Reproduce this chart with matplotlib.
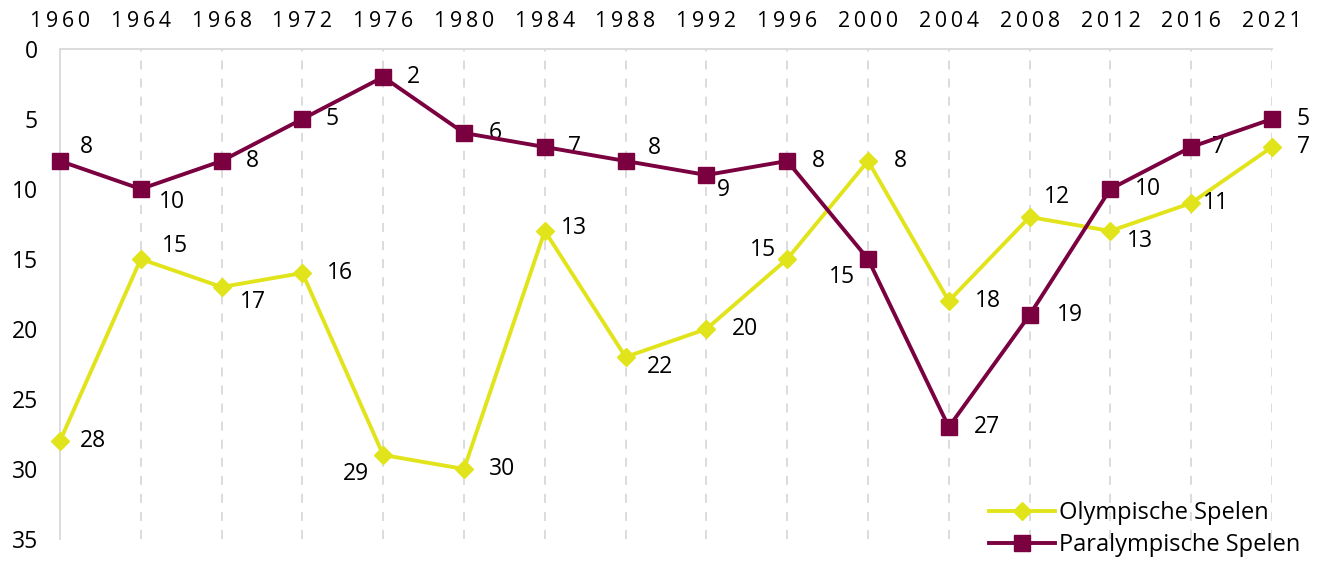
import numpy as np
import matplotlib.pyplot as plt

plt.rcParams['font.family'] = ['Open Sans', 'DejaVu Sans']

# data
years = ['1960', '1964', '1968', '1972', '1976', '1980', '1984', '1988',
         '1992', '1996', '2000', '2004', '2008', '2012', '2016', '2021']
olympisch = [28, 15, 17, 16, 29, 30, 13, 22, 20, 15, 8, 18, 12, 13, 11, 7]
paralympisch = [8, 10, 8, 5, 2, 6, 7, 8, 9, 8, 15, 27, 19, 10, 7, 5]

# label offsets in pixels (dx, dy with y pointing down)
off_oly = [(33, 0), (34, -13), (31, 15), (38, 0), (-27, 19), (38, 0), (29, -3), (34, 10),
           (39, 0), (-24, -9), (32, 0), (39, 0), (27, -20), (30, 10), (25, 0), (31, 0)]
off_para = [(26, -14), (31, 13), (31, 0), (30, 0), (30, 0), (31, 0), (30, 0), (29, -13),
            (17, 15), (31, 0), (-26, 18), (38, 0), (40, 0), (38, 0), (27, 0), (31, 0)]

geel = '#E2E41B'
bordeaux = '#7A0040'

fig = plt.figure(figsize=(13.23, 5.63), dpi=100)
ax = fig.add_axes([60/1323, 1-539/563, (1272-60)/1323, (539-49)/563])

x = np.arange(len(years))
ax.plot(x, olympisch, color=geel, lw=2.8, marker='D', ms=9.5, label='Olympische Spelen',
        zorder=3, clip_on=False)
ax.plot(x, paralympisch, color=bordeaux, lw=2.8, marker='s', ms=12, label='Paralympische Spelen',
        zorder=4, clip_on=False)

for i in range(len(years)):
    ax.annotate(str(olympisch[i]), (x[i], olympisch[i]), xytext=(off_oly[i][0], -off_oly[i][1]),
                textcoords='offset pixels', ha='center', va='center', fontsize=16.5)
    ax.annotate(str(paralympisch[i]), (x[i], paralympisch[i]), xytext=(off_para[i][0], -off_para[i][1]),
                textcoords='offset pixels', ha='center', va='center', fontsize=16.5)

ax.set_xlim(0, len(years) - 1)
ax.set_ylim(35, 0)
ax.set_yticks(range(0, 36, 5))
ax.set_xticks(x)
ax.set_xticklabels(['\u2009'.join(y) for y in years], fontsize=15.5)
ax.xaxis.tick_top()
ax.tick_params(axis='x', length=0, pad=12)
ax.tick_params(axis='y', length=0, pad=16, labelsize=16.5)

for xi in x[1:]:
    ax.axvline(xi, color='#D9D9D9', lw=1.3, ls=(0, (5, 5)), zorder=1)

for s in ['right', 'bottom']:
    ax.spines[s].set_visible(False)
for s in ['left', 'top']:
    ax.spines[s].set_color('#D9D9D9')
    ax.spines[s].set_linewidth(1.3)

ax.legend(loc='lower right', bbox_to_anchor=(1312/1323, -6/563), bbox_transform=fig.transFigure,
          frameon=False, fontsize=17, handlelength=2.8, handletextpad=0.15,
          labelspacing=0.35, borderpad=0)

plt.savefig('out.png', dpi=100)
